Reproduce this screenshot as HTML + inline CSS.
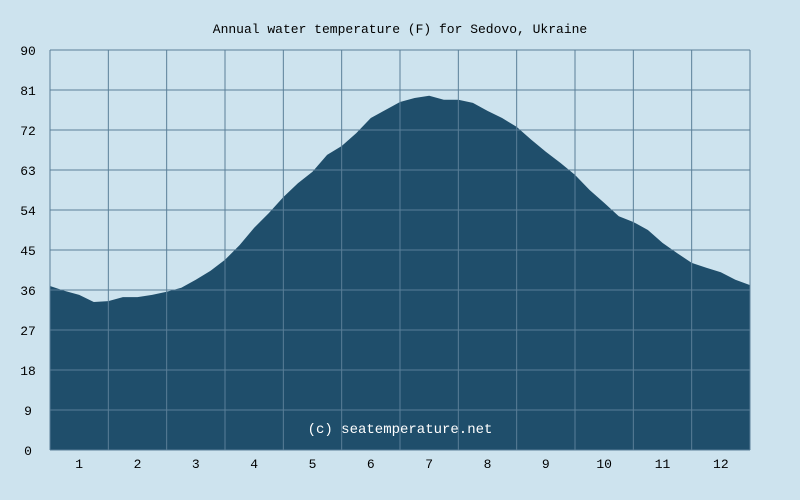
<!DOCTYPE html>
<html><head><meta charset="utf-8"><style>
body{margin:0;background:#cde3ee;}
svg{display:block;font-family:"Liberation Mono",monospace;}
</style></head><body>
<svg width="800" height="500">
<rect width="800" height="500" fill="#cde3ee"/>
<text x="400" y="33" font-size="13" text-anchor="middle" fill="#000">Annual water temperature (F) for Sedovo, Ukraine</text>
<g id="plot"></g>
</svg>
<script>
const months=["1","2","3","4","5","6","7","8","9","10","11","12"];
const yTicks=[0,9,18,27,36,45,54,63,72,81,90];
const temps=[36.9,35.8,34.9,33.3,33.5,34.4,34.4,34.9,35.6,36.5,38.3,40.3,42.8,46.1,50,53.3,56.9,60,62.6,66.4,68.4,71.3,74.7,76.5,78.3,79.2,79.7,78.8,78.8,78.1,76.3,74.7,72.7,69.8,67.1,64.6,61.9,58.5,55.6,52.6,51.3,49.5,46.6,44.3,42.1,41,40,38.3,37.1];
const X0=50,X1=750,Y0=450,Y1=50;
const xs=i=>X0+(X1-X0)*i/(temps.length-1);
const ys=v=>Y0-(Y0-Y1)*v/90;
const ns="http://www.w3.org/2000/svg";
const g=document.getElementById('plot');
function mk(t,a){const e=document.createElementNS(ns,t);for(const k in a)e.setAttribute(k,a[k]);g.appendChild(e);return e;}
const bg=mk('rect',{x:X0,y:Y1,width:X1-X0,height:Y0-Y1,fill:'#cde3ee'});


let d='M'+X0+','+Y0;
temps.forEach((v,i)=>{d+=' L'+xs(i).toFixed(1)+','+ys(v).toFixed(1);});
d+=' L'+X1+','+Y0+' Z';
const area=mk('path',{d:d,fill:'#1f4e6b'});


yTicks.forEach(t=>{
 const y=ys(t);
 const l=mk('line',{x1:X0,x2:X1,y1:y,y2:y,stroke:'#5a7f98','stroke-width':1});
 
 
 const tx=mk('text',{x:28,y:y+5,'font-size':13,'text-anchor':'middle',fill:'#000'});
 tx.textContent=t;
 
 
});
const mw=(X1-X0)/12;
for(let i=0;i<=12;i++){
 const x=X0+mw*i;
 const l=mk('line',{x1:x,x2:x,y1:Y1,y2:Y0,stroke:'#5a7f98','stroke-width':1});
 
 
}
months.forEach((m,i)=>{
 const tx=mk('text',{x:X0+mw*(i+0.5),y:468,'font-size':13,'text-anchor':'middle',fill:'#000'});
 tx.textContent=m;
 
 
});
const c=mk('text',{x:400,y:433,'font-size':14,'text-anchor':'middle',fill:'#fff'});
c.textContent='(c) seatemperature.net';


</script>
</body></html>
